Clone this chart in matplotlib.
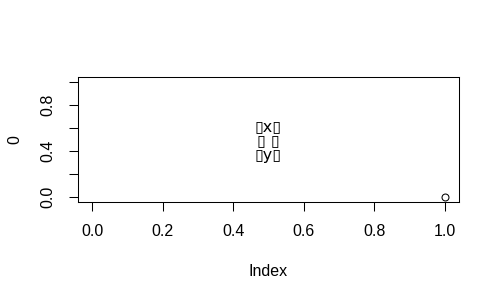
import matplotlib
matplotlib.use("Agg")
import matplotlib.pyplot as plt

# data: a single point at Index 1, value 0
x_vals = [1]
y_vals = [0]
ticks = [0.0, 0.2, 0.4, 0.6, 0.8, 1.0]
x_tick_labels = ["0.0", "0.2", "0.4", "0.6", "0.8", "1.0"]
# R drops the y labels that would overlap
y_tick_labels = ["0.0", "", "0.4", "", "0.8", ""]
# the centre label is rendered as missing-glyph boxes around x and y
note = "\u25afx\u25af\n\u25af \u25af\n\u25afy\u25af"

plt.rcParams['font.family'] = ['Liberation Sans', 'DejaVu Sans']

fig = plt.figure(figsize=(5, 3), dpi=100)
ax = fig.add_axes([0.156, 0.3267, 0.762, 0.4167])

ax.plot(x_vals, y_vals, linestyle="none", marker="o", markersize=5,
        markerfacecolor="none", markeredgecolor="black", markeredgewidth=0.75)

ax.set_xlim(-0.04, 1.04)
ax.set_ylim(-0.04, 1.04)
ax.set_xticks(ticks)
ax.set_xticklabels(x_tick_labels)
ax.set_yticks(ticks)
ax.set_yticklabels(y_tick_labels, rotation=90, va="center")
ax.tick_params(direction="out", length=6.5, width=0.75, labelsize=11.5, pad=9.5)
ax.tick_params(axis="y", pad=10)
for s in ax.spines.values():
    s.set_linewidth(0.75)

ax.set_xlabel("Index", fontsize=11.5, labelpad=18)
ax.set_ylabel("0", fontsize=11.5, labelpad=13)

ax.text(0.5, 0.49, note, ha="center", va="center", fontsize=11.5,
        family=['DejaVu Sans'], linespacing=0.95)

fig.savefig("out.png", dpi=100)
